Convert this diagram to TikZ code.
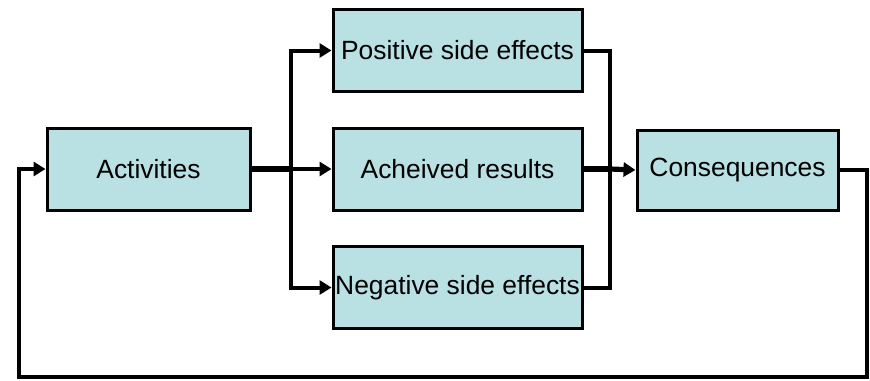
\documentclass[tikz,border=0pt]{standalone}
\usepackage{fontspec}
\setmainfont{Liberation Sans}
\usetikzlibrary{arrows.meta}
\usetikzlibrary{positioning}
\definecolor{boxfill}{RGB}{185,224,227}
\tikzset{
    block/.style={
        draw, line width=1.5pt,
        fill=boxfill,
        minimum width=124.5pt,
        minimum height=41pt,
        inner sep=0pt,
        font=\fontsize{13.2}{15}\selectfont},
    link/.style={
        draw, line width=2pt},
    flow/.style={
        link, -{Triangle[length=6pt,width=7pt]}},
    mainlink/.style={link, line width=2.8pt}}

\begin{document}
\begin{tikzpicture}[x=0.5pt, y=-0.5pt]
        \useasboundingbox (0,0) rectangle (870,380);

        \node[block, minimum width=101.5pt] (act) at (148.5,169) {Activities};
        \node[block] (pos) at (457.5,50.5) {Positive side effects};
        \node[block] (ach) at (457.5,169) {Acheived results};
        \node[block] (neg) at (457.5,287.5) {Negative side effects};
        \node[block, minimum width=100.5pt, minimum height=40pt] (cons) at (737.5,170) {Consequences};

        \coordinate (split) at (291,169);
        \coordinate (merge) at (610,169);
        \coordinate (backR) at (867,377);
        \coordinate (backL) at (19,377);

        % fan out
        \draw[mainlink] (act.east) -- (split);
        \draw[flow] (split) |- (pos.west);
        \draw[flow] (split) -- (ach.west);
        \draw[flow] (split) |- (neg.west);

        % fan in
        \draw[link] (pos.east) -| (merge);
        \draw[link] (neg.east) -| (merge);
        \draw[mainlink] (ach.east) -- (merge);
        \draw[flow, line width=2.6pt] (merge) -- (cons.west);

        % feedback
        \draw[flow] (cons.east) -| (backR) -- (backL) |- (act.west);
    \end{tikzpicture}
\end{document}
